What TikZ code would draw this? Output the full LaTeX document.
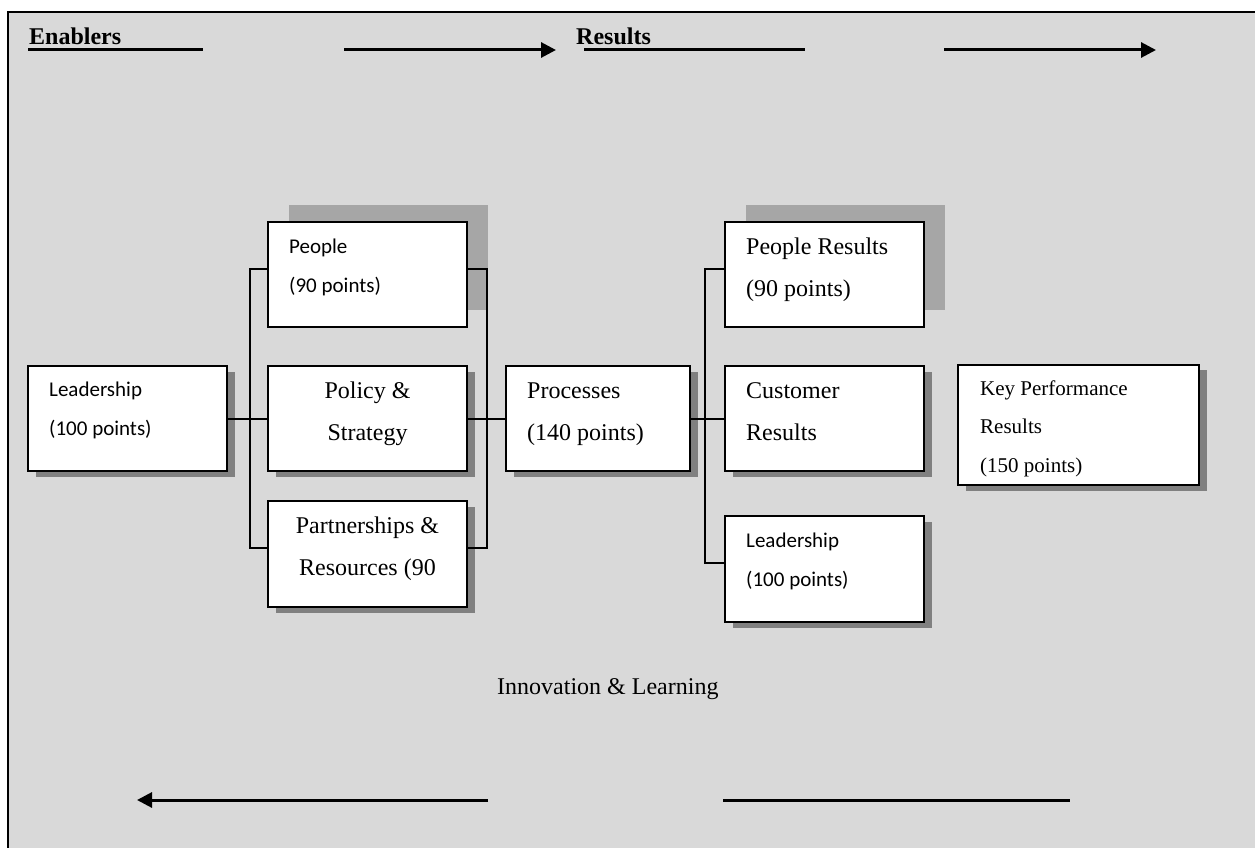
\documentclass[tikz,border=0pt]{standalone}
\usepackage{fontspec}
\setmainfont{Liberation Serif}
\newfontfamily\calibrifont{Carlito}
\usetikzlibrary{arrows.meta,calc,shadows}
\definecolor{bggray}{HTML}{D9D9D9}
\definecolor{shdark}{HTML}{808080}
\definecolor{shlight}{HTML}{A6A6A6}
\begin{document}
\begin{tikzpicture}[x=1pt,y=-1pt,
  box/.style={draw=black, line width=2pt, fill=white, minimum width=199pt, minimum height=105pt, inner sep=0pt, outer sep=0pt, anchor=north west},
  dshadow/.style={drop shadow={shadow xshift=8pt, shadow yshift=-6pt, fill=shdark, opacity=1}},
  lshadow/.style={general shadow={shadow xshift=21pt, shadow yshift=17pt, fill=shlight, opacity=1}},
  conn/.style={line width=2pt},
  bigarrow/.style={line width=3pt, -{Triangle[length=15pt,width=15pt]}},
  ruleline/.style={line width=3pt},
  times/.style={font=\fontsize{24}{42}\selectfont},
  ktimes/.style={font=\fontsize{21}{38.5}\selectfont},
  cal/.style={font=\calibrifont\fontsize{21}{39}\selectfont},
  txt/.style={inner sep=0pt, align=left, anchor=north west},
  ctxt/.style={inner sep=0pt, align=center, anchor=north},
  head/.style={inner sep=0pt, anchor=base west, font=\bfseries\fontsize{24}{24}\selectfont},
]
\useasboundingbox (0,0) rectangle (1255,848);
% frame
\fill[bggray] (8,12) rectangle (1255,848);
\draw[line width=2.5pt] (8,848) -- (8,12) -- (1255,12);

% header
\node[head] (enab) at (29,45) {Enablers};
\node[head] (res) at (576,45) {Results};
\coordinate (u1s) at (28,50); \coordinate (u1e) at (203,50);
\coordinate (u2s) at (584,50); \coordinate (u2e) at (805,50);
\coordinate (a1s) at (344,50); \coordinate (a1e) at (556,50);
\coordinate (a2s) at (944,50); \coordinate (a2e) at (1156,50);
\draw[ruleline] (u1s) -- (u1e);
\draw[ruleline] (u2s) -- (u2e);
\draw[bigarrow] (a1s) -- (a1e);
\draw[bigarrow] (a2s) -- (a2e);

% boxes
\node[box,dshadow] (lead) at (28,366) {};
\node[box,lshadow] (people) at (268,222) {};
\node[box,dshadow] (policy) at (268,366) {};
\node[box,dshadow,minimum height=106pt] (partner) at (268,501) {};
\node[box,dshadow,minimum width=184pt] (proc) at (506,366) {};
\node[box,lshadow] (peopleR) at (725,222) {};
\node[box,dshadow] (cust) at (725,366) {};
\node[box,dshadow,minimum height=106pt] (lead2) at (725,516) {};
\node[box,dshadow,minimum width=241pt,minimum height=120pt,drop shadow={shadow xshift=8pt, shadow yshift=-5pt, fill=shdark, opacity=1}] (kpr) at (958,365) {};

% texts
\node[txt,cal] (leadT) at ($(lead.north west)+(21,5)$) {\rule{0pt}{25pt}Leadership\\(100 points)};
\node[txt,cal] (peopleT) at ($(people.north west)+(21,6)$) {\rule{0pt}{25pt}People\\(90 points)};
\node[ctxt,times] (policyT) at ($(policy.north)+(0,7)$) {\rule{0pt}{25pt}Policy \&\\Strategy};
\node[ctxt,times] (partnerT) at ($(partner.north)+(0,7)$) {\rule{0pt}{25pt}Partnerships \&\\Resources (90};
\node[txt,times] (procT) at ($(proc.north west)+(21,7)$) {\rule{0pt}{25pt}Processes\\(140 points)};
\node[txt,times] (peopleRT) at ($(peopleR.north west)+(21,7)$) {\rule{0pt}{25pt}People Results\\(90 points)};
\node[txt,times] (custT) at ($(cust.north west)+(21,7)$) {\rule{0pt}{25pt}Customer\\Results};
\node[txt,cal] (lead2T) at ($(lead2.north west)+(21,6)$) {\rule{0pt}{25pt}Leadership\\(100 points)};
\node[txt,ktimes] (kprT) at ($(kpr.north west)+(22,5)$) {\rule{0pt}{25pt}Key Performance\\Results\\(150 points)};

% connectors
\draw[conn] (lead.east) -- (policy.west);
\draw[conn] ([yshift=6pt]people.west) -- ++(-18,0) |- ([yshift=6pt]partner.west);
\draw[conn] ([yshift=6pt]people.east) -- ++(20,0) |- ([yshift=6pt]partner.east);
\draw[conn] (policy.east) -- (proc.west);
\draw[conn] (proc.east) -- (cust.west);
\draw[conn] ([yshift=6pt]peopleR.west) -- ++(-20,0) |- ([yshift=6pt]lead2.west);

% bottom
\node[inner sep=0pt, anchor=base west, font=\fontsize{24}{24}\selectfont] (innov) at (497,694) {Innovation \& Learning};
\coordinate (b1s) at (488,800); \coordinate (b1e) at (137,800);
\coordinate (b2s) at (723,800); \coordinate (b2e) at (1070,800);
\draw[bigarrow] (b1s) -- (b1e);
\draw[ruleline] (b2s) -- (b2e);
\end{tikzpicture}
\end{document}
